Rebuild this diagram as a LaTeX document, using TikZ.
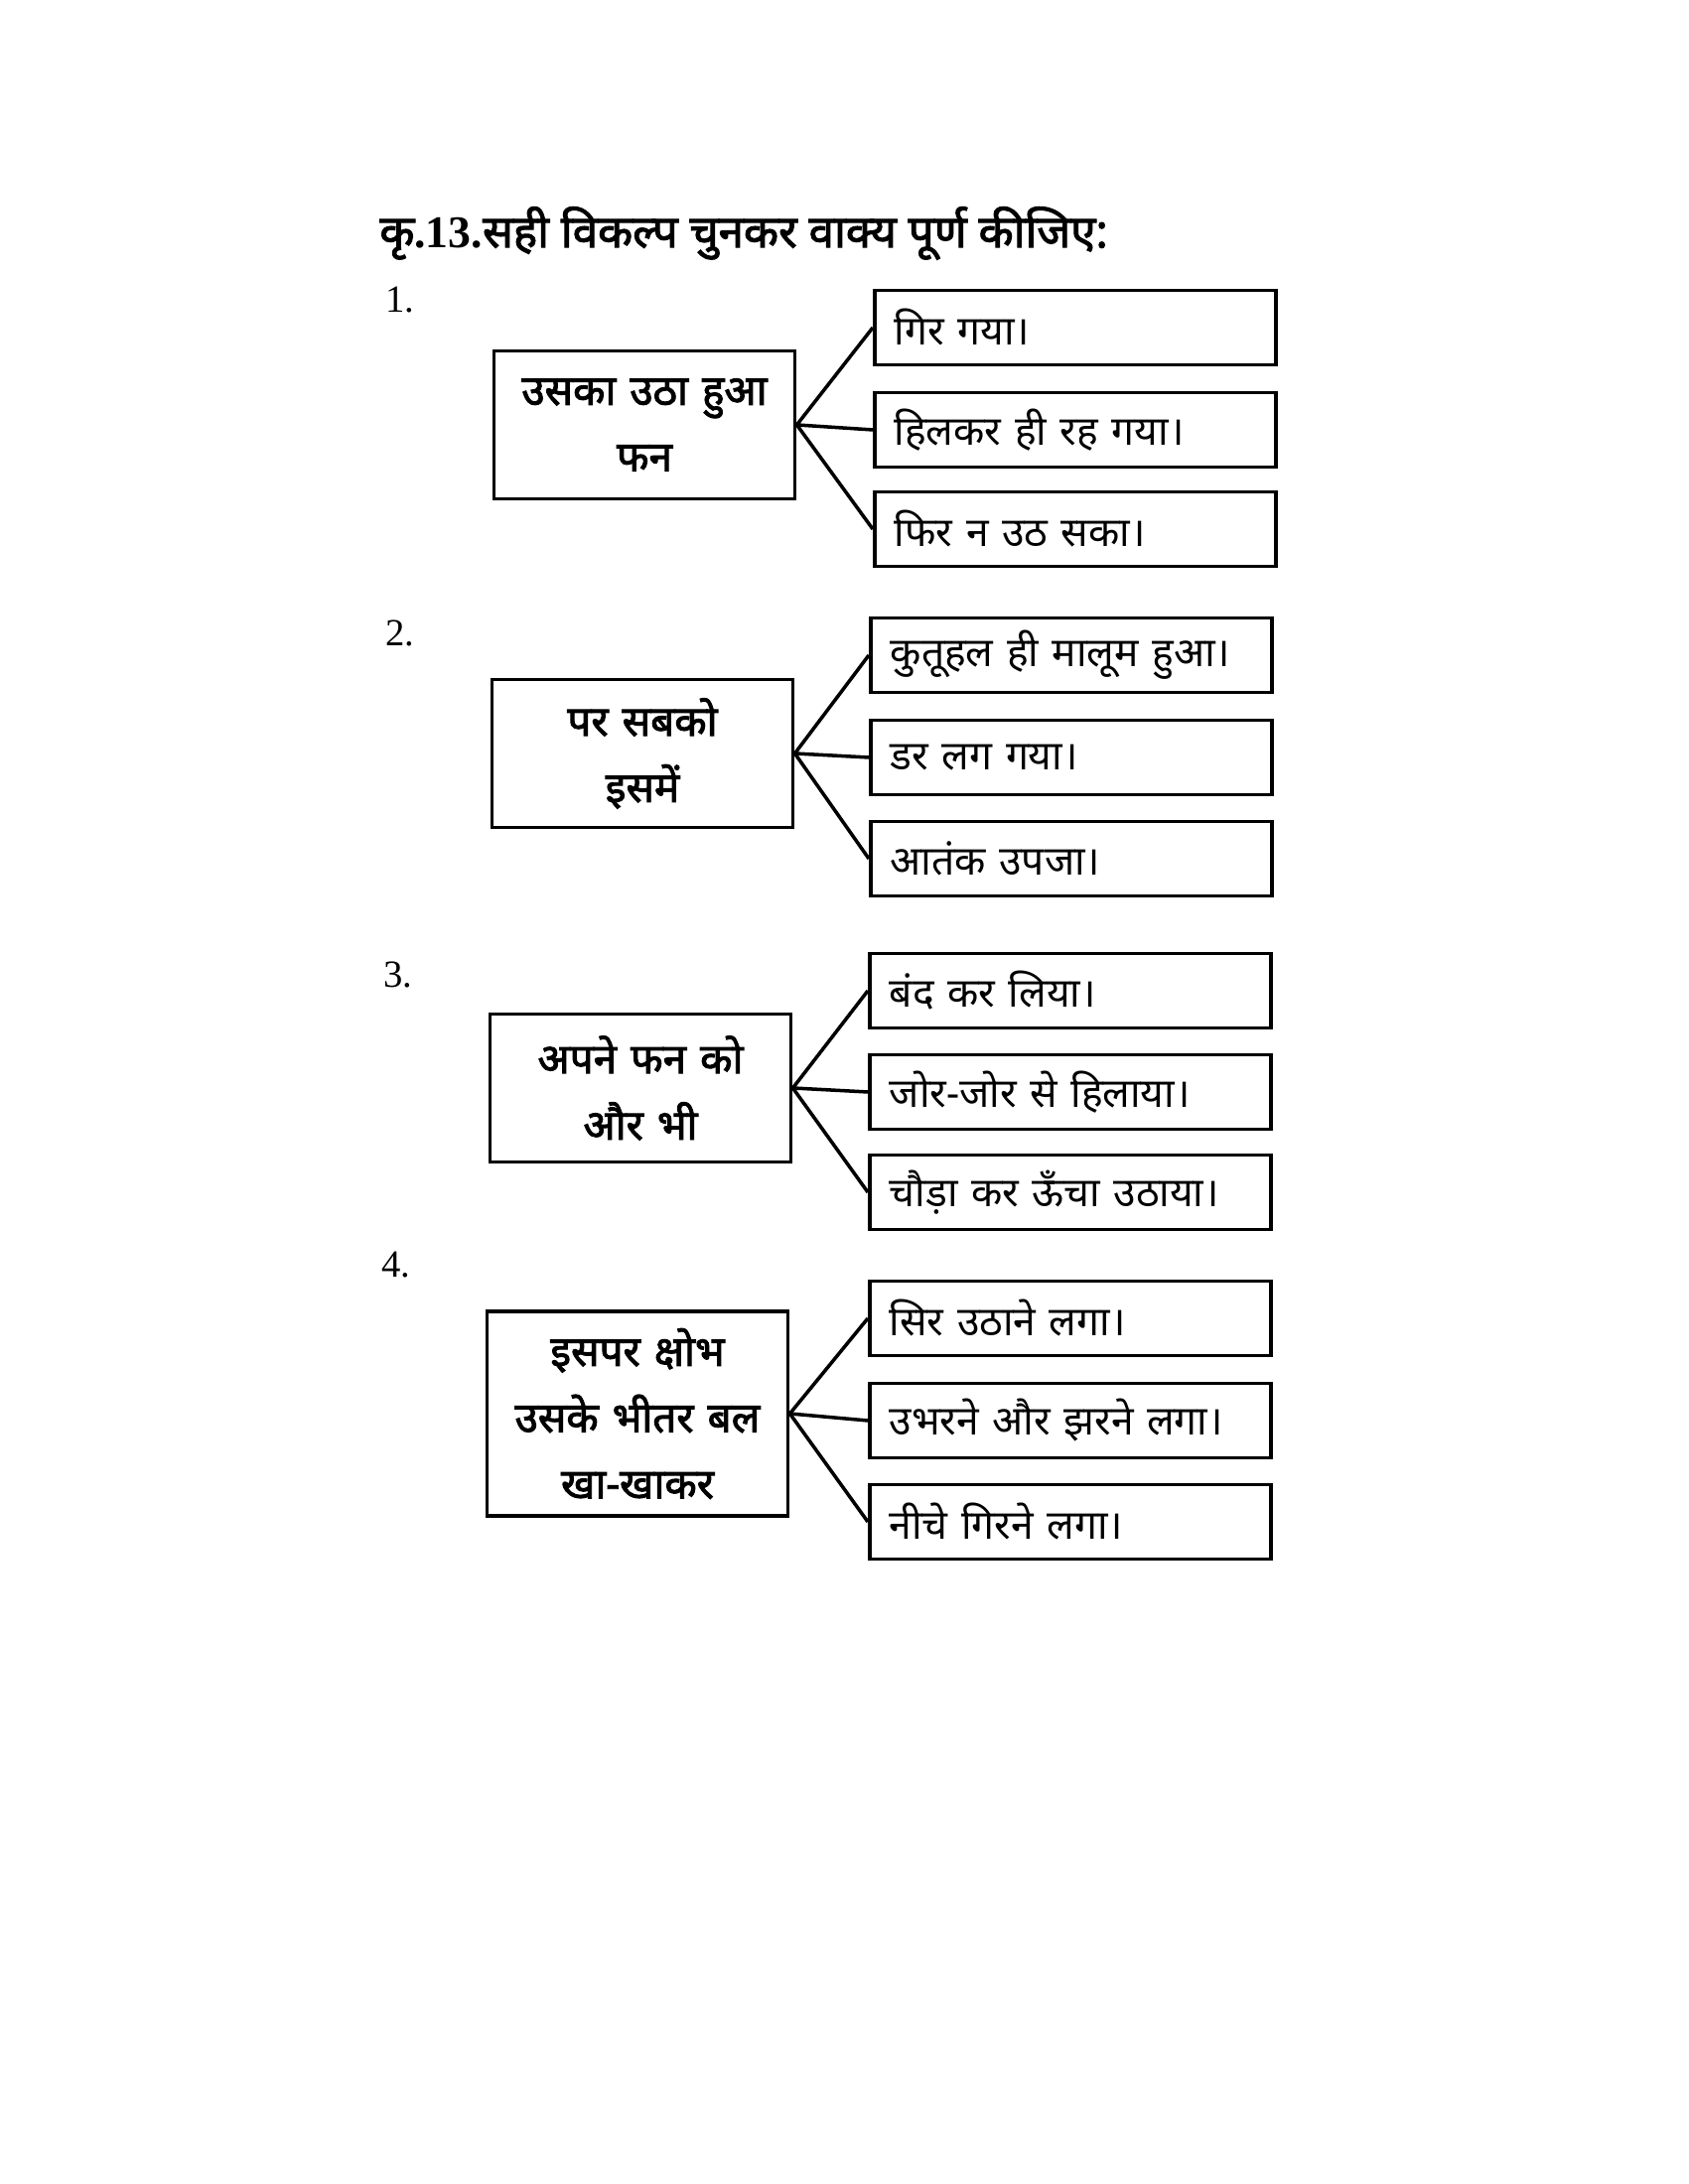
\documentclass[tikz,border=0pt]{standalone}
\usepackage{fontspec}
\setmainfont{Liberation Serif}
\newfontfamily\devfont[Script=Devanagari]{Noto Sans}
\newfontfamily\devbold[Script=Devanagari, FakeBold=2.2]{Noto Sans}
\usetikzlibrary{positioning}

\begin{document}
\begin{tikzpicture}[
  stem/.style={rectangle, draw=black, line width=1pt,
               minimum width=3.0cm, minimum height=1.49cm, text width=2.8cm,
               align=center, font=\devbold\fontsize{12}{19}\selectfont},
  opt/.style={rectangle, draw=black, line width=1pt, anchor=west,
              minimum width=4.04cm, minimum height=0.75cm, text width=3.64cm,
              inner xsep=0.2cm, align=left, font=\devfont\fontsize{11.6}{13}\selectfont},
  num/.style={anchor=west, font=\fontsize{11}{13}\selectfont},
  link/.style={line width=1pt}
]
  \useasboundingbox[fill=white] (0,0) rectangle (17,22);

  \node[anchor=west, font=\fontsize{13}{15}\selectfont\bfseries] (title) at (3.70, 19.65)
    {{\devbold कृ}.13.{\devbold सही विकल्प चुनकर वाक्य पूर्ण कीजिए:}};

  % 1.
  \node[num] (n1) at (3.76, 18.98) {1.};
  \node[stem] (s1) at (6.49, 17.72) {उसका उठा हुआ\\फन};
  \node[opt] (a1) at (8.79, 18.70) {गिर गया।};
  \node[opt] (b1) at (8.79, 17.67) {हिलकर ही रह गया।};
  \node[opt] (c1) at (8.79, 16.67) {फिर न उठ सका।};
  \draw[link] (s1.east) -- (a1.west);
  \draw[link] (s1.east) -- (b1.west);
  \draw[link] (s1.east) -- (c1.west);

  % 2.
  \node[num] (n2) at (3.76, 15.62) {2.};
  \node[stem] (s2) at (6.47, 14.41) {पर सबको\\इसमें};
  \node[opt] (a2) at (8.75, 15.40) {कुतूहल ही मालूम हुआ।};
  \node[opt] (b2) at (8.75, 14.37) {डर लग गया।};
  \node[opt] (c2) at (8.75, 13.35) {आतंक उपजा।};
  \draw[link] (s2.east) -- (a2.west);
  \draw[link] (s2.east) -- (b2.west);
  \draw[link] (s2.east) -- (c2.west);

  % 3.
  \node[num] (n3) at (3.74, 12.18) {3.};
  \node[stem] (s3) at (6.45, 11.04) {अपने फन को\\और भी};
  \node[opt] (a3) at (8.74, 12.02) {बंद कर लिया।};
  \node[opt] (b3) at (8.74, 11.00) {जोर-जोर से हिलाया।};
  \node[opt] (c3) at (8.74, 9.99) {चौड़ा कर ऊँचा उठाया।};
  \draw[link] (s3.east) -- (a3.west);
  \draw[link] (s3.east) -- (b3.west);
  \draw[link] (s3.east) -- (c3.west);

  % 4.
  \node[num] (n4) at (3.72, 9.26) {4.};
  \node[stem, minimum height=2.06cm] (s4) at (6.42, 7.76) {इसपर क्षोभ\\उसके भीतर बल\\खा-खाकर};
  \node[opt] (a4) at (8.74, 8.72) {सिर उठाने लगा।};
  \node[opt] (b4) at (8.74, 7.69) {उभरने और झरने लगा।};
  \node[opt] (c4) at (8.74, 6.67) {नीचे गिरने लगा।};
  \draw[link] (s4.east) -- (a4.west);
  \draw[link] (s4.east) -- (b4.west);
  \draw[link] (s4.east) -- (c4.west);
\end{tikzpicture}
\end{document}
